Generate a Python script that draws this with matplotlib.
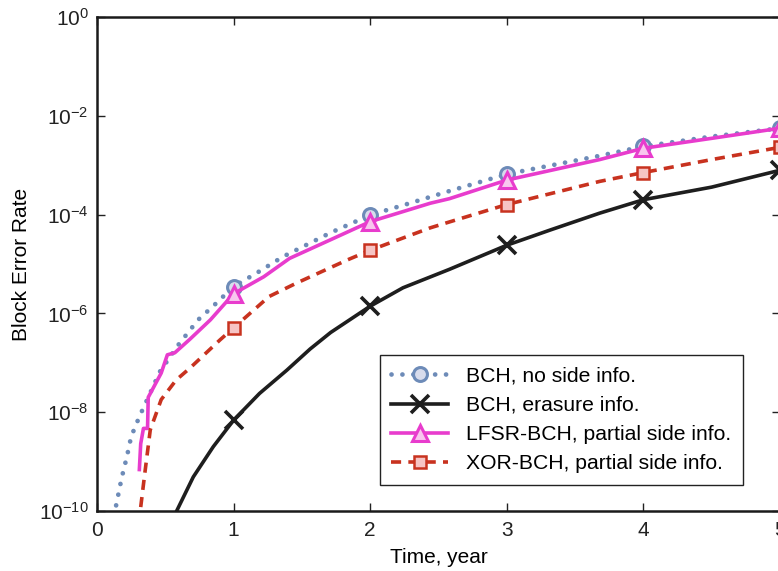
import numpy as np
import matplotlib
matplotlib.use("Agg")
import matplotlib.pyplot as plt
from matplotlib.lines import Line2D

plt.rcParams['font.family'] = ['Liberation Sans', 'DejaVu Sans']
plt.rcParams['mathtext.fontset'] = 'custom'
plt.rcParams['mathtext.rm'] = 'Liberation Sans'
plt.rcParams['mathtext.default'] = 'regular'

## Donnees (x en annees, y = taux d'erreur)
x_nosi = [0.14, 0.18, 0.22, 0.25, 0.31, 0.375, 0.46, 0.595, 0.74, 0.85, 1.0,
          1.17, 1.36, 1.71, 2.0, 2.29, 2.58, 3.0, 3.68, 4.0, 4.5, 5.0]
y_nosi = [1.3e-10, 4.6e-10, 1.3e-9, 3.2e-9, 8.1e-9, 2.0e-8, 6.6e-8, 2.3e-7,
          7.4e-7, 1.4e-6, 3.5e-6, 6.6e-6, 1.4e-5, 4.3e-5, 9.8e-5, 1.7e-4,
          3.0e-4, 6.6e-4, 1.55e-3, 2.4e-3, 3.8e-3, 5.6e-3]

x_eras = [0.583, 0.705, 0.851, 1.0, 1.19, 1.39, 1.56, 1.71, 2.0, 2.24, 2.58,
          3.0, 3.32, 3.68, 4.0, 4.5, 5.0]
y_eras = [1.0e-10, 4.9e-10, 2.0e-9, 6.9e-9, 2.4e-8, 7.1e-8, 1.9e-7, 4.1e-7,
          1.4e-6, 3.3e-6, 7.8e-6, 2.4e-5, 4.9e-5, 1.07e-4, 2.0e-4, 3.6e-4,
          7.9e-4]

x_lfsr = [0.31, 0.32, 0.34, 0.37, 0.375, 0.47, 0.515, 0.57, 0.68, 0.83, 1.0,
          1.22, 1.41, 1.71, 2.0, 2.44, 2.58, 3.0, 3.68, 4.0, 4.5, 5.0]
y_lfsr = [6.9e-10, 2.3e-9, 4.7e-9, 4.7e-9, 2.0e-8, 6.2e-8, 1.45e-7, 1.6e-7,
          3.0e-7, 7.4e-7, 2.5e-6, 5.5e-6, 1.3e-5, 3.1e-5, 7.2e-5, 1.7e-4,
          2.1e-4, 5.0e-4, 1.3e-3, 2.2e-3, 3.5e-3, 5.6e-3]

x_xor = [0.32, 0.35, 0.39, 0.47, 0.58, 0.68, 0.9, 1.0, 1.26, 1.46, 1.83, 2.0,
         2.44, 2.58, 3.0, 3.68, 4.0, 4.5, 5.0]
y_xor = [1.2e-10, 5.8e-10, 4.4e-9, 1.8e-8, 4.5e-8, 7.8e-8, 2.9e-7, 5.1e-7,
         2.2e-6, 4.1e-6, 1.2e-5, 1.9e-5, 5.4e-5, 7.1e-5, 1.6e-4, 4.7e-4,
         7.1e-4, 1.3e-3, 2.3e-3]

labels = ["BCH, no side info.", "BCH, erasure info.",
          "LFSR-BCH, partial side info.", "XOR-BCH, partial side info."]
x_ticks = [0, 1, 2, 3, 4, 5]
y_ticks = [1e-10, 1e-8, 1e-6, 1e-4, 1e-2, 1e0]


def marques(x):
    # indices des annees entieres (1..5) pour les marqueurs
    return [i for i, v in enumerate(x) if v >= 1 and abs(v - round(v)) < 1e-9]


bleu, bleu_f = '#6d8bb8', '#d8dcec'
noir = '#1e1e1e'
mag, mag_f = '#e83ccd', '#f8c6ee'
rouge, rouge_f = '#c8321f', '#f6c4c4'

styles = [
    dict(color=bleu, lw=3.4, ls=(0, (0.01, 2.3)), dash_capstyle='round',
         marker='o', ms=10, mec=bleu, mfc=bleu_f, mew=2.2),
    dict(color=noir, lw=2.6, ls='-', marker='x', ms=13, mec=noir, mew=2.6),
    dict(color=mag, lw=2.6, ls='-', marker='^', ms=11, mec=mag, mfc=mag_f,
         mew=2.2),
    dict(color=rouge, lw=2.6, ls=(0, (2.8, 2.0)), marker='s', ms=8.5,
         mec=rouge, mfc=rouge_f, mew=1.8),
]

fig = plt.figure(figsize=(7.78, 5.71), dpi=100)
ax = fig.add_axes([97 / 778, 1 - 511 / 571, 683 / 778, 494 / 571])

series = [(x_nosi, y_nosi), (x_eras, y_eras), (x_lfsr, y_lfsr), (x_xor, y_xor)]
for (x, y), st in zip(series, styles):
    ax.plot(x, y, markevery=marques(x), **st)

ax.set_yscale('log')
ax.set_xlim(0, 5)
ax.set_ylim(1e-10, 1e0)
ax.set_xticks(x_ticks)
ax.set_yticks(y_ticks)
ax.yaxis.set_minor_locator(matplotlib.ticker.NullLocator())
ax.tick_params(direction='in', length=6, width=1.0, labelsize=15,
               top=True, right=True, pad=7, colors='#222222')
ax.tick_params(axis='y', pad=6)
for s in ax.spines.values():
    s.set_linewidth(1.8)
    s.set_color('#1a1a1a')

ax.set_xlabel("Time, year", fontsize=15, labelpad=6)
ax.set_ylabel("Block Error Rate", fontsize=15, labelpad=6)

handles = [Line2D([], [], **st) for st in styles]
leg = ax.legend(handles, labels, loc='lower right', bbox_to_anchor=(0.946, 0.053),
                borderaxespad=0, fontsize=15.2, numpoints=1, handlelength=2.7,
                handletextpad=0.85, labelspacing=0.48, borderpad=0.55,
                fancybox=False, framealpha=1, edgecolor='#222222')
leg.get_frame().set_linewidth(1.0)

fig.savefig('out.png', dpi=100)
